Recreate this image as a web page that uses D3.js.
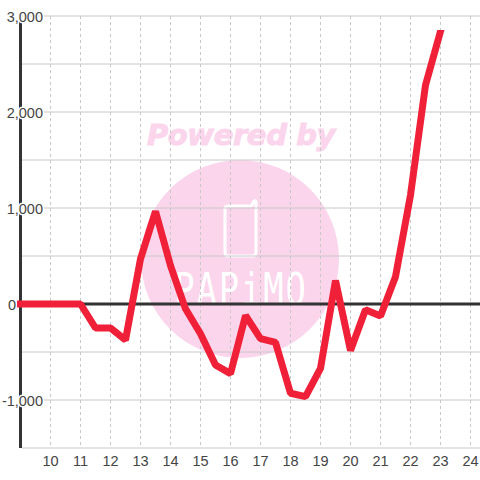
<!DOCTYPE html>
<html>
<head>
<meta charset="utf-8">
<script src="https://cdn.jsdelivr.net/npm/d3@7"></script>
<style>
body { margin: 0; background: #fff; }
text { font-family: "Liberation Sans", sans-serif; }
</style>
</head>
<body>
<script>
const w = 480; // width
const h = 480; // height

const hours = [9, 9.5, 10, 10.5, 11, 11.5, 12, 12.5, 13, 13.5, 14, 14.5, 15, 15.5, 16, 16.5, 17, 17.5, 18, 18.5, 19, 19.5, 20, 20.5, 21, 21.5, 22, 22.5, 23];
const values = [0, 0, 0, 0, 0, -250, -250, -375, 470, 965, 400, -50, -310, -635, -725, -120, -360, -400, -930, -965, -670, 245, -485, -60, -125, 285, 1135, 2280, 2840];
const xTicks = [10, 11, 12, 13, 14, 15, 16, 17, 18, 19, 20, 21, 22, 23, 24];
const yGrid = [3000, 2500, 2000, 1500, 1000, 500, 0, -500, -1000, -1500];
const yLabels = [3000, 2000, 1000, 0, -1000];

let svg = d3.select("body")
    .append("svg")
    .attr('width', w)
    .attr('height', h)
    .style('display', 'block');

let x = d3.scaleLinear().domain([9, 24]).range([20.5, 470.5]);
let y = d3.scaleLinear().domain([3000, -1500]).range([16, 448]);

// watermark
let mark = svg.append("g").attr('class', 'watermark');
mark.append("circle")
    .attr('cx', 240).attr('cy', 259).attr('r', 99)
    .attr('fill', '#fbd5ec');
mark.append("text")
    .attr('x', 241).attr('y', 144.5)
    .attr('text-anchor', 'middle')
    .attr('font-size', 29)
    .attr('font-weight', 'bold')
    .attr('font-style', 'italic')
    .attr('letter-spacing', -0.4)
    .style('font-family', '"DejaVu Sans"')
    .attr('fill', '#fbd5ec')
    .attr('stroke', '#fbd5ec')
    .attr('stroke-width', 1)
    .text("Powered by");
mark.append("path")
    .attr('d', 'M228 206H250Q253 206 253 202Q256 199 256 203V252Q256 256 252 256H228Q225 256 225 252V209Q225 206 228 206Z')
    .attr('fill', 'none')
    .attr('stroke', '#fff')
    .attr('stroke-width', 3);
mark.append("text")
    .attr('transform', 'translate(241,305) scale(1.3,1.7)')
    .attr('text-anchor', 'middle')
    .attr('font-size', 26)
    .attr('letter-spacing', 1.5)
    .style('font-family', '"DejaVu Sans Mono"')
    .attr('fill', '#fff')
    .text("PAPiMO");

// grid
svg.append("g").selectAll("line")
    .data(yGrid)
    .enter()
    .append("line")
    .attr('x1', 22).attr('x2', w)
    .attr('y1', (d) => y(d)).attr('y2', (d) => y(d))
    .attr('stroke', '#c8c8c8');
svg.append("g").selectAll("line")
    .data(xTicks)
    .enter()
    .append("line")
    .attr('x1', (d) => x(d)).attr('x2', (d) => x(d))
    .attr('y1', 16).attr('y2', 448)
    .attr('stroke', '#c8c8c8')
    .attr('stroke-dasharray', '3,3');

// axes
svg.append("line")
    .attr('x1', x(9)).attr('x2', x(9))
    .attr('y1', 16).attr('y2', 448)
    .attr('stroke', '#333').attr('stroke-width', 3);
svg.append("line")
    .attr('x1', 20).attr('x2', w)
    .attr('y1', y(0)).attr('y2', y(0))
    .attr('stroke', '#333').attr('stroke-width', 3);

// y labels
svg.append("g").selectAll("text")
    .data(yLabels)
    .enter()
    .append("text")
    .attr('x', (d) => d === 0 ? 16 : 43)
    .attr('y', (d) => y(d) + 5.5)
    .attr('text-anchor', 'end')
    .attr('font-size', 14.5)
    .attr('fill', '#444')
    .style('paint-order', 'stroke')
    .attr('stroke', (d) => d === 0 ? 'none' : '#fff')
    .attr('stroke-width', 3)
    .text((d) => d3.format(",")(d).replace("\u2212", "-"));

// x labels
svg.append("g").selectAll("text")
    .data(xTicks)
    .enter()
    .append("text")
    .attr('x', (d) => x(d))
    .attr('y', 466)
    .attr('text-anchor', 'middle')
    .attr('font-size', 14.5)
    .attr('fill', '#444')
    .text((d) => d);

// series, top end of the line is cut flat in the original
svg.append("clipPath")
    .attr('id', 'line-clip')
    .append("rect")
    .attr('x', 0).attr('y', 30)
    .attr('width', w).attr('height', h - 30);

let line = d3.line()
    .x((d, i) => x(hours[i]))
    .y((d) => y(d));
svg.append("path")
    .datum(values)
    .attr('d', line)
    .attr('clip-path', 'url(#line-clip)')
    .attr('fill', 'none')
    .attr('stroke', '#ef2038')
    .attr('stroke-width', 7)
    .attr('stroke-linejoin', 'bevel')
    .attr('stroke-linecap', 'square');
</script>
</body>
</html>
